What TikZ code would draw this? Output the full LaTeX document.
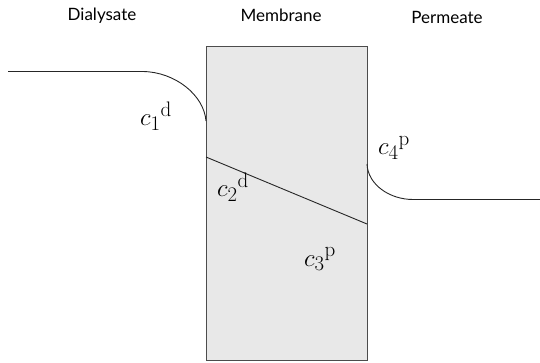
\documentclass[tikz,border=0pt]{standalone}
\usepackage{fontspec}
\setsansfont{Lato}
\DeclareMathSizes{27}{27}{21}{16}
\begin{document}
\begin{tikzpicture}[x=1pt,y=-1pt,
  title/.style={font=\sffamily\fontsize{17}{20}\selectfont, text=black, inner sep=0pt},
  conc/.style={font=\fontsize{27}{32}\selectfont, inner sep=0pt, anchor=base west},
  profile/.style={draw=black!85, line width=0.9pt},
  membrane/.style={draw=black!70, line width=1.4pt, fill=black!9}]
\useasboundingbox (0,0) rectangle (540,363);
\node[title] (tdia) at (102,16) {Dialysate};
\node[title] (tmem) at (281,15) {Membrane};
\node[title] (tper) at (447,17) {Permeate};
\node[membrane, minimum width=161pt, minimum height=314pt, anchor=north west, inner sep=0pt] (mem) at (206,46) {};
\coordinate (l0) at (8,71.5);
\coordinate (l1) at (143,71.5);
\coordinate (l2) at (206,121);
\coordinate (d0) at (206,157);
\coordinate (d1) at (367,224);
\coordinate (r0) at (367,164);
\coordinate (r1) at (413,199.5);
\coordinate (r2) at (540,199.5);
\draw[profile] (l0) -- (l1) .. controls (175,72) and (204,95) .. (l2);
\draw[profile] (d0) -- (d1);
\draw[profile] (r0) .. controls (368,185) and (390,199.5) .. (r1) -- (r2);
\node[conc] (c1) at (140,126) {${c_1}^{\mathrm{d}}$};
\node[conc] (c2) at (217,197) {${c_2}^{\mathrm{d}}$};
\node[conc] (c3) at (304,266) {${c_3}^{\mathrm{p}}$};
\node[conc] (c4) at (378,155) {${c_4}^{\mathrm{p}}$};
\end{tikzpicture}
\end{document}
